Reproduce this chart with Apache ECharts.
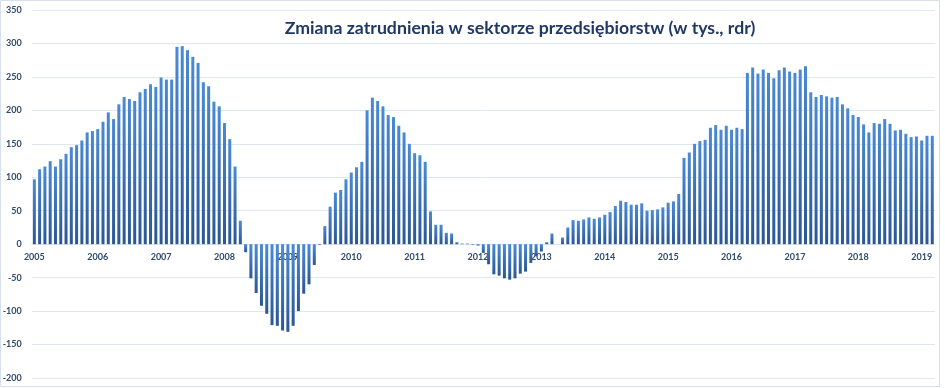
<!DOCTYPE html>
<html>
<head>
<meta charset="utf-8">
<script src="https://cdn.jsdelivr.net/npm/echarts@6/dist/echarts.min.js"></script>
<style>
html,body{margin:0;padding:0;background:#fff;}
#c{width:945px;height:388px;}
</style>
</head>
<body>
<div id="c"></div>
<script>
const titleText = 'Zmiana zatrudnienia w sektorze przedsiębiorstw (w tys., rdr)';
const years = ['2005','2006','2007','2008','2009','2010','2011','2012','2013','2014','2015','2016','2017','2018','2019'];
const v2005 = [97, 112, 116, 124, 116, 127, 135, 145, 148, 155, 167, 169];
const v2006 = [172, 183, 197, 187, 209, 220, 217, 214, 227, 232, 239, 235];
const v2007 = [249, 246, 246, 295, 296, 290, 280, 271, 242, 236, 213, 206];
const v2008 = [181, 157, 116, 35, -12, -51, -73, -92, -104, -121, -122, -129];
const v2009 = [-131, -122, -100, -74, -60, -31, -1, 27, 56, 77, 81, 97];
const v2010 = [107, 115, 123, 200, 219, 214, 206, 193, 190, 177, 167, 150];
const v2011 = [136, 133, 123, 49, 29, 29, 17, 16, 3, 1, 1, -1];
const v2012 = [-2, -13, -30, -45, -47, -51, -53, -51, -44, -41, -28, -18];
const v2013 = [-11, 3, 16, 0, 10, 25, 36, 35, 37, 40, 38, 40];
const v2014 = [44, 48, 57, 65, 63, 59, 59, 61, 50, 51, 52, 55];
const v2015 = [62, 64, 75, 129, 137, 150, 154, 156, 174, 178, 171, 177];
const v2016 = [171, 174, 172, 256, 264, 255, 261, 256, 248, 260, 264, 258];
const v2017 = [256, 261, 266, 227, 220, 223, 221, 219, 220, 209, 203, 193];
const v2018 = [190, 179, 167, 181, 180, 187, 180, 170, 171, 165, 160, 161];
const v2019 = [155, 162, 162];

const yearValues = [v2005,v2006,v2007,v2008,v2009,v2010,v2011,v2012,v2013,v2014,v2015,v2016,v2017,v2018,v2019];
const categories = [];
const values = [];
yearValues.forEach((arr, yi) => {
  arr.forEach((v, mi) => {
    categories.push(mi === 0 ? years[yi] : years[yi] + '-' + (mi + 1));
    values.push(v);
  });
});

const yMin = -200, yMax = 350;
const gridTop = 10, gridBottom = 10, H = 388;
const plotH = H - gridTop - gridBottom;
const zeroOffset = -(plotH * (0 - yMin) / (yMax - yMin)); // move category axis up to the zero line

const chart = echarts.init(document.getElementById('c'), null, {renderer: 'canvas'});
chart.setOption({
  animation: false,
  backgroundColor: '#ffffff',
  title: {
    text: titleText,
    left: 515,
    top: 14,
    textAlign: 'center',
    textStyle: {
      fontFamily: 'Lato',
      fontWeight: 'bold',
      fontSize: 17.7,
      color: '#1f3864'
    }
  },
  graphic: [{
    type: 'rect',
    shape: {x: 0.5, y: 0.5, width: 939, height: 386},
    style: {fill: 'none', stroke: '#d6e0ec', lineWidth: 1},
    silent: true,
    z: -1
  }],
  grid: {left: 31.7, right: 10.1, top: gridTop, bottom: gridBottom, containLabel: false, outerBoundsMode: 'none'},
  xAxis: {
    type: 'category',
    data: categories,
    boundaryGap: true,
    position: 'bottom',
    offset: zeroOffset,
    axisLine: {show: true, onZero: false, lineStyle: {color: '#dde6f1', width: 1}},
    axisTick: {show: false},
    splitLine: {show: false},
    axisLabel: {
      interval: 0,
      formatter: function (val, idx) { return idx % 12 === 0 ? val : ''; },
      margin: 8,
      fontFamily: 'Lato',
      fontWeight: 'bold',
      fontSize: 9,
      color: '#2e4a6e'
    }
  },
  yAxis: {
    type: 'value',
    min: yMin,
    max: yMax,
    interval: 50,
    axisLine: {show: false},
    axisTick: {show: false},
    splitLine: {lineStyle: {color: '#dde6f1', width: 1}},
    axisLabel: {
      margin: 10,
      fontFamily: 'Lato',
      fontWeight: 'bold',
      fontSize: 9,
      color: '#2e4a6e'
    }
  },
  series: [{
    type: 'bar',
    data: values,
    barWidth: 3,
    itemStyle: {
      color: new echarts.graphic.LinearGradient(0, 0, 0, 1, [
        {offset: 0, color: '#4a8ad6'},
        {offset: 1, color: '#2b5794'}
      ])
    }
  }]
});
</script>
</body>
</html>
